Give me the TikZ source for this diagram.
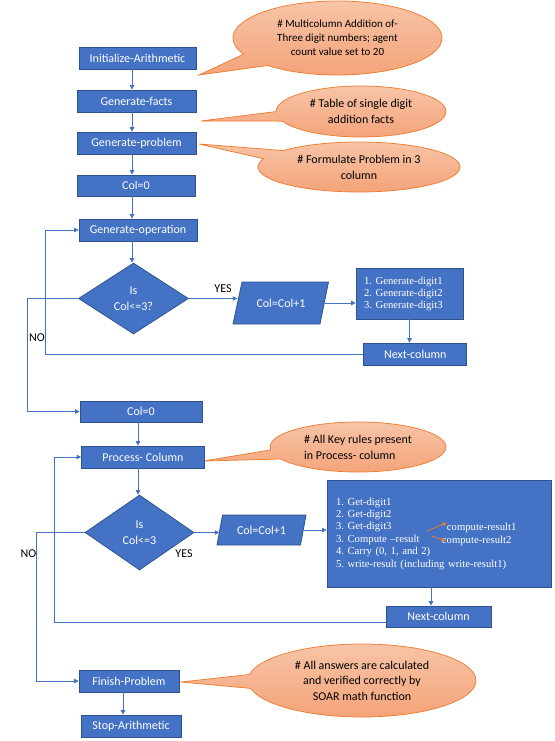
\documentclass[tikz,border=0pt]{standalone}
\usepackage{fontspec}
\setmainfont{Carlito}
\newfontfamily\tnr{Liberation Serif}
\usetikzlibrary{shapes.geometric,shapes.callouts,arrows.meta}
\definecolor{bluebox}{HTML}{4472C4}
\definecolor{blueedge}{HTML}{2F528F}
\definecolor{orng}{HTML}{ED7D31}
\definecolor{calltop}{HTML}{F7C4A7}
\definecolor{callbot}{HTML}{F4A277}
\frenchspacing
\begin{document}
\begin{tikzpicture}[x=1pt,y=-1pt,
  box/.style={draw=blueedge,fill=bluebox,line width=0.75pt,text=white,inner sep=0pt,font=\fontsize{12}{14}\selectfont},
  dec/.style={diamond,draw=blueedge,fill=bluebox,line width=0.75pt,text=white,inner sep=0pt,align=center,font=\fontsize{12}{16}\selectfont},
  paratext/.style={rectangle,text=white,inner sep=0pt,font=\fontsize{12}{14}\selectfont},
  parashape/.style={draw=blueedge,fill=bluebox,line width=0.75pt},
  note/.style={ellipse callout,draw=orng,line width=0.75pt,top color=calltop,bottom color=callbot,inner sep=0pt,text=black,align=center,callout pointer arc=22},
  conn/.style={draw=bluebox,line width=0.75pt},
  arr/.style={conn,-{Triangle[length=4.5pt,width=4.5pt]}},
  oarr/.style={draw=orng,line width=0.75pt,-{Triangle[length=4pt,width=4pt]}},
  lbl/.style={font=\fontsize{12}{14}\selectfont,text=black,inner sep=0pt},
  wlbl/.style={font=\tnr\fontsize{10.7}{12}\selectfont,text=white,inner sep=0pt,anchor=base west},
]
\fill[white] (0,0) rectangle (554,741);
\useasboundingbox (0,0) rectangle (554,741);

% callout tips
\coordinate (t1) at (199,75);
\coordinate (t2) at (201,121);
\coordinate (t3) at (199,144);
\coordinate (t4) at (203.5,461);
\coordinate (t5) at (181,682);

% callouts
\node[note,minimum width=209pt,minimum height=74pt,callout absolute pointer=(t1),font=\fontsize{11}{14}\selectfont] (c1) at (337.5,38) {\# Multicolumn Addition of-\\Three digit numbers; agent\\count value set to 20};
\node[note,minimum width=170pt,minimum height=51pt,callout absolute pointer=(t2),font=\fontsize{12}{16}\selectfont] (c2) at (361,111.5) {\# Table of single digit\\addition facts};
\node[note,minimum width=202pt,minimum height=50pt,callout absolute pointer=(t3),font=\fontsize{12}{16}\selectfont] (c3) at (359,167) {\# Formulate Problem in 3\\column};
\node[note,minimum width=176pt,minimum height=50pt,callout absolute pointer=(t4),align=left,font=\fontsize{12}{16}\selectfont] (c4) at (358,447) {\# All Key rules present\\in Process- column};
\node[note,minimum width=228pt,minimum height=73pt,callout absolute pointer=(t5),font=\fontsize{12}{15.5}\selectfont] (c5) at (362,680.5) {\# All answers are calculated\\and verified correctly by\\SOAR math function};

% boxes
\node[box,minimum width=117pt,minimum height=22pt] (init) at (137.5,58) {Initialize-Arithmetic};
\node[box,minimum width=119pt,minimum height=22pt] (facts) at (136.5,101) {Generate-facts};
\node[box,minimum width=119pt,minimum height=22pt] (prob) at (136.5,143) {Generate-problem};
\node[box,minimum width=118pt,minimum height=21pt] (col0a) at (136,185.5) {Col=0};
\node[box,minimum width=118pt,minimum height=22pt] (genop) at (138,230) {Generate-operation};
\node[dec,minimum width=110pt,minimum height=71pt] (dia1) at (133.5,298.5) {Is\\Col<=3?};
\path[parashape] (233,324) -- (242,282) -- (328.5,282) -- (320,324) -- cycle;
\node[paratext,minimum width=87pt,minimum height=42pt] (par1) at (281,303) {Col=Col+1};
\node[box,minimum width=107pt,minimum height=51pt,text width=91pt,align=left,font=\tnr\fontsize{10.7}{12}\selectfont] (digits) at (409.5,293.5) {1. Generate-digit1\\2. Generate-digit2\\3. Generate-digit3};
\node[box,minimum width=103pt,minimum height=22pt] (next1) at (415.3,354) {Next-column};

\node[box,minimum width=122pt,minimum height=21pt] (col0b) at (141,411.5) {Col=0};
\node[box,minimum width=123pt,minimum height=22pt] (proc) at (143,457) {Process- Column};
\node[dec,minimum width=109pt,minimum height=75pt] (dia2) at (139.5,532.5) {Is\\Col<=3};
\path[parashape] (217,545) -- (222.5,515) -- (306,515) -- (300.5,545) -- cycle;
\node[paratext,minimum width=84pt,minimum height=30pt] (par2) at (261.5,530) {Col=Col+1};
\node[box,minimum width=224pt,minimum height=107pt,text width=206pt,align=left,font=\tnr\fontsize{10.7}{12.4}\selectfont] (big) at (439,533.5) {1. Get-digit1\\2. Get-digit2\\3. Get-digit3\\3. Compute –result\\4. Carry (0, 1, and 2)\\5. write-result (including write-result1)};
\node[wlbl] (cr1) at (446.7,530.5) {compute-result1};
\node[wlbl] (cr2) at (441.7,543.5) {compute-result2};
\node[box,minimum width=105pt,minimum height=21pt] (next2) at (438.5,616.5) {Next-column};
\node[box,minimum width=100pt,minimum height=22pt] (finish) at (129,681) {Finish-Problem};
\node[box,minimum width=100pt,minimum height=22pt] (stop) at (131,726) {Stop-Arithmetic};

% labels
\node[lbl] (yes1) at (223,289) {YES};
\node[lbl] (no1) at (37,338) {NO};
\node[lbl] (yes2) at (184,554) {YES};
\node[lbl] (no2) at (28.4,554) {NO};

% helper coordinates
\coordinate (A1) at (132,0);
\coordinate (A2) at (138,0);
\coordinate (A3) at (123,0);
\coordinate (A4) at (431,0);
\coordinate (L1) at (45.5,354);
\coordinate (N1) at (27.7,0);
\coordinate (L2) at (54,622);
\coordinate (N2) at (36,0);
\coordinate (o1s) at (427,531);
\coordinate (o2s) at (432,536);

% connectors
\draw[arr] (init.south -| A1) -- (facts.north -| A1);
\draw[arr] (facts.south -| A1) -- (prob.north -| A1);
\draw[arr] (prob.south -| A1) -- (col0a.north -| A1);
\draw[arr] (col0a.south -| A1) -- (genop.north -| A1);
\draw[arr] (genop.south -| A1) -- (dia1.north -| A1);
\draw[arr] (dia1.east) -- (dia1.east -| par1.west);
\draw[arr] (par1.east) -- (par1.east -| digits.west);
\draw[arr] (digits.south) -- (digits.south |- next1.north);
\draw[arr] (next1.west) -- (next1.west -| L1) |- (genop.west);
\draw[arr] (dia1.west) -- (dia1.west -| N1) |- (col0b.west);

\draw[arr] (col0b.south -| A2) -- (proc.north -| A2);
\draw[arr] (proc.south -| A2) -- (dia2.north -| A2);
\draw[arr] (dia2.east) -- (dia2.east -| par2.west);
\draw[arr] (par2.east) -- (par2.east -| big.west);
\draw[arr] (big.south -| A4) -- (next2.north -| A4);
\draw[arr] (next2.west |- L2) -- (L2) |- (proc.west);
\draw[arr] (dia2.west) -- (dia2.west -| N2) |- (finish.west);
\draw[arr] (finish.south -| A3) -- (stop.north -| A3);

\draw[oarr] (o1s) -- (cr1.north west);
\draw[oarr] (o2s) -- ([xshift=4pt]cr2.west);
\end{tikzpicture}
\end{document}
